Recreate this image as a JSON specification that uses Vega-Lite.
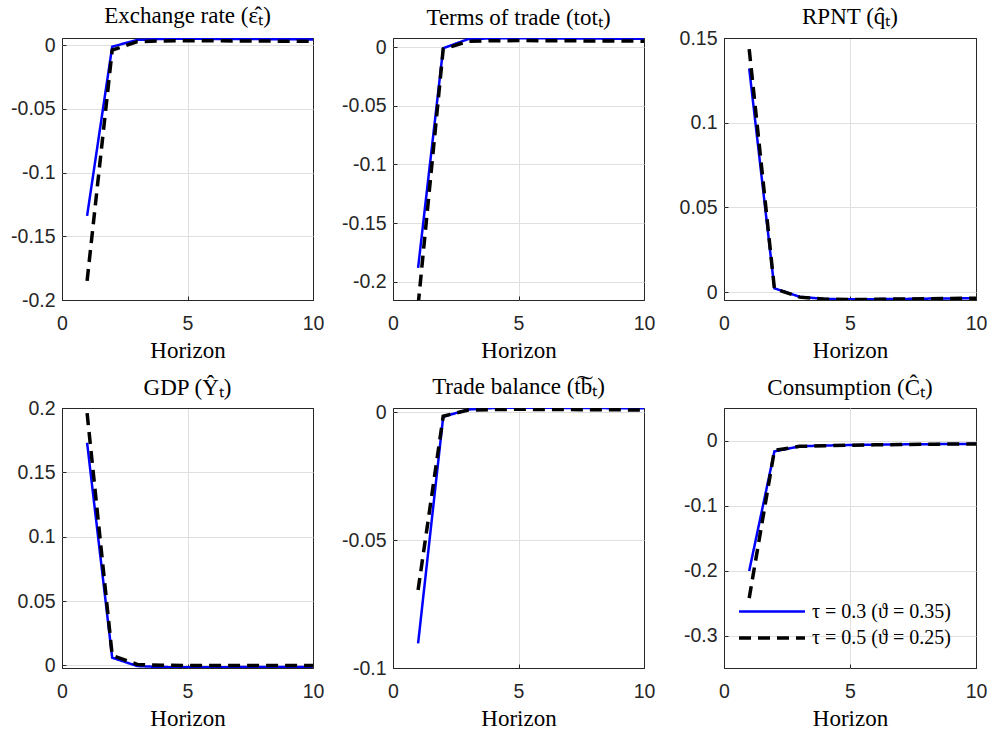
{
  "$schema": "https://vega.github.io/schema/vega-lite/v6.json",
  "background": "white",
  "padding": {"left": 10, "top": 4, "right": 5, "bottom": 0},
  "datasets": {
    "irf": [
      {"p":"ex","s":"a","h":1,"v":-0.134},{"p":"ex","s":"a","h":2,"v":-0.0013},{"p":"ex","s":"a","h":3,"v":0.004},{"p":"ex","s":"a","h":4,"v":0.0048},{"p":"ex","s":"a","h":5,"v":0.0049},{"p":"ex","s":"a","h":6,"v":0.0048},{"p":"ex","s":"a","h":7,"v":0.0047},{"p":"ex","s":"a","h":8,"v":0.0046},{"p":"ex","s":"a","h":9,"v":0.0045},{"p":"ex","s":"a","h":10,"v":0.0044},
      {"p":"ex","s":"b","h":1,"v":-0.185},{"p":"ex","s":"b","h":2,"v":-0.004},{"p":"ex","s":"b","h":3,"v":0.0026},{"p":"ex","s":"b","h":4,"v":0.0032},{"p":"ex","s":"b","h":5,"v":0.0033},{"p":"ex","s":"b","h":6,"v":0.0033},{"p":"ex","s":"b","h":7,"v":0.0032},{"p":"ex","s":"b","h":8,"v":0.0031},{"p":"ex","s":"b","h":9,"v":0.003},{"p":"ex","s":"b","h":10,"v":0.003},
      {"p":"tot","s":"a","h":1,"v":-0.188},{"p":"tot","s":"a","h":2,"v":-0.001},{"p":"tot","s":"a","h":3,"v":0.0068},{"p":"tot","s":"a","h":4,"v":0.0074},{"p":"tot","s":"a","h":5,"v":0.0075},{"p":"tot","s":"a","h":6,"v":0.0074},{"p":"tot","s":"a","h":7,"v":0.0073},{"p":"tot","s":"a","h":8,"v":0.0072},{"p":"tot","s":"a","h":9,"v":0.0071},{"p":"tot","s":"a","h":10,"v":0.007},
      {"p":"tot","s":"b","h":1,"v":-0.22},{"p":"tot","s":"b","h":2,"v":-0.0017},{"p":"tot","s":"b","h":3,"v":0.0049},{"p":"tot","s":"b","h":4,"v":0.0054},{"p":"tot","s":"b","h":5,"v":0.0055},{"p":"tot","s":"b","h":6,"v":0.0054},{"p":"tot","s":"b","h":7,"v":0.0053},{"p":"tot","s":"b","h":8,"v":0.0052},{"p":"tot","s":"b","h":9,"v":0.0051},{"p":"tot","s":"b","h":10,"v":0.005},
      {"p":"q","s":"a","h":1,"v":0.132},{"p":"q","s":"a","h":2,"v":0.0022},{"p":"q","s":"a","h":3,"v":-0.0028},{"p":"q","s":"a","h":4,"v":-0.0041},{"p":"q","s":"a","h":5,"v":-0.0043},{"p":"q","s":"a","h":6,"v":-0.0042},{"p":"q","s":"a","h":7,"v":-0.0041},{"p":"q","s":"a","h":8,"v":-0.0039},{"p":"q","s":"a","h":9,"v":-0.0038},{"p":"q","s":"a","h":10,"v":-0.0036},
      {"p":"q","s":"b","h":1,"v":0.1434},{"p":"q","s":"b","h":2,"v":0.002},{"p":"q","s":"b","h":3,"v":-0.003},{"p":"q","s":"b","h":4,"v":-0.0042},{"p":"q","s":"b","h":5,"v":-0.0044},{"p":"q","s":"b","h":6,"v":-0.0043},{"p":"q","s":"b","h":7,"v":-0.0041},{"p":"q","s":"b","h":8,"v":-0.004},{"p":"q","s":"b","h":9,"v":-0.0038},{"p":"q","s":"b","h":10,"v":-0.0036},
      {"p":"y","s":"a","h":1,"v":0.173},{"p":"y","s":"a","h":2,"v":0.006},{"p":"y","s":"a","h":3,"v":-0.0005},{"p":"y","s":"a","h":4,"v":-0.0013},{"p":"y","s":"a","h":5,"v":-0.0014},{"p":"y","s":"a","h":6,"v":-0.0014},{"p":"y","s":"a","h":7,"v":-0.0013},{"p":"y","s":"a","h":8,"v":-0.0013},{"p":"y","s":"a","h":9,"v":-0.0012},{"p":"y","s":"a","h":10,"v":-0.0012},
      {"p":"y","s":"b","h":1,"v":0.196},{"p":"y","s":"b","h":2,"v":0.0078},{"p":"y","s":"b","h":3,"v":0.0008},{"p":"y","s":"b","h":4,"v":0.0001},{"p":"y","s":"b","h":5,"v":0.0},{"p":"y","s":"b","h":6,"v":0.0},{"p":"y","s":"b","h":7,"v":0.0},{"p":"y","s":"b","h":8,"v":0.0},{"p":"y","s":"b","h":9,"v":0.0},{"p":"y","s":"b","h":10,"v":0.0},
      {"p":"tb","s":"a","h":1,"v":-0.0904},{"p":"tb","s":"a","h":2,"v":-0.0018},{"p":"tb","s":"a","h":3,"v":0.001},{"p":"tb","s":"a","h":4,"v":0.0016},{"p":"tb","s":"a","h":5,"v":0.0017},{"p":"tb","s":"a","h":6,"v":0.0017},{"p":"tb","s":"a","h":7,"v":0.0016},{"p":"tb","s":"a","h":8,"v":0.0016},{"p":"tb","s":"a","h":9,"v":0.0015},{"p":"tb","s":"a","h":10,"v":0.0015},
      {"p":"tb","s":"b","h":1,"v":-0.0695},{"p":"tb","s":"b","h":2,"v":-0.0016},{"p":"tb","s":"b","h":3,"v":0.0008},{"p":"tb","s":"b","h":4,"v":0.001},{"p":"tb","s":"b","h":5,"v":0.0011},{"p":"tb","s":"b","h":6,"v":0.001},{"p":"tb","s":"b","h":7,"v":0.001},{"p":"tb","s":"b","h":8,"v":0.0009},{"p":"tb","s":"b","h":9,"v":0.0009},{"p":"tb","s":"b","h":10,"v":0.0008},
      {"p":"c","s":"a","h":1,"v":-0.2006},{"p":"c","s":"a","h":2,"v":-0.0168},{"p":"c","s":"a","h":3,"v":-0.009},{"p":"c","s":"a","h":4,"v":-0.0077},{"p":"c","s":"a","h":5,"v":-0.007},{"p":"c","s":"a","h":6,"v":-0.0065},{"p":"c","s":"a","h":7,"v":-0.006},{"p":"c","s":"a","h":8,"v":-0.0057},{"p":"c","s":"a","h":9,"v":-0.0054},{"p":"c","s":"a","h":10,"v":-0.0051},
      {"p":"c","s":"b","h":1,"v":-0.2425},{"p":"c","s":"b","h":2,"v":-0.0153},{"p":"c","s":"b","h":3,"v":-0.009},{"p":"c","s":"b","h":4,"v":-0.008},{"p":"c","s":"b","h":5,"v":-0.0072},{"p":"c","s":"b","h":6,"v":-0.0067},{"p":"c","s":"b","h":7,"v":-0.0062},{"p":"c","s":"b","h":8,"v":-0.0058},{"p":"c","s":"b","h":9,"v":-0.0055},{"p":"c","s":"b","h":10,"v":-0.0052}
    ]
  },
  "columns": 3,
  "spacing": {"row": 108, "column": 79},
  "bounds": "flush",
  "align": "all",
  "resolve": {"scale": {"color": "independent", "strokeDash": "independent", "strokeWidth": "independent"}},
  "concat": [
    {
      "title": {"text": "Exchange rate (ε̂ₜ)", "offset": 7},
      "width": 251, "height": 262,
      "data": {"name": "irf"},
      "transform": [{"filter": "datum.p == 'ex'"}],
      "mark": {"type": "line", "clip": true},
      "encoding": {
        "x": {"field": "h", "type": "quantitative", "scale": {"domain": [0, 10], "nice": false}, "axis": {"values": [0, 5, 10], "title": "Horizon", "gridColor": {"condition": {"test": "datum.value == 0 || datum.value == 10", "value": "#262626"}, "value": "#dfdfdf"}}},
        "y": {"field": "v", "type": "quantitative", "scale": {"domain": [-0.2, 0.0055], "nice": false, "zero": false}, "axis": {"values": [-0.2, -0.15, -0.1, -0.05, 0], "title": null, "gridColor": {"condition": {"test": "datum.value == -0.2", "value": "#262626"}, "value": "#dfdfdf"}}},
        "color": {"field": "s", "type": "nominal", "scale": {"domain": ["a", "b"], "range": ["#0000ff", "#000000"]}, "legend": null},
        "strokeDash": {"field": "s", "type": "nominal", "scale": {"domain": ["a", "b"], "range": [[1, 0], [12, 7]]}, "legend": null},
        "strokeWidth": {"field": "s", "type": "ordinal", "scale": {"domain": ["a", "b"], "range": [2.5, 3.5]}, "legend": null}
      }
    },
    {
      "title": {"text": "Terms of trade (totₜ)", "offset": 7},
      "width": 251, "height": 262,
      "data": {"name": "irf"},
      "transform": [{"filter": "datum.p == 'tot'"}],
      "mark": {"type": "line", "clip": true},
      "encoding": {
        "x": {"field": "h", "type": "quantitative", "scale": {"domain": [0, 10], "nice": false}, "axis": {"values": [0, 5, 10], "title": "Horizon", "gridColor": {"condition": {"test": "datum.value == 0 || datum.value == 10", "value": "#262626"}, "value": "#dfdfdf"}}},
        "y": {"field": "v", "type": "quantitative", "scale": {"domain": [-0.2154, 0.0077], "nice": false, "zero": false}, "axis": {"values": [-0.2, -0.15, -0.1, -0.05, 0], "title": null}},
        "color": {"field": "s", "type": "nominal", "scale": {"domain": ["a", "b"], "range": ["#0000ff", "#000000"]}, "legend": null},
        "strokeDash": {"field": "s", "type": "nominal", "scale": {"domain": ["a", "b"], "range": [[1, 0], [12, 7]]}, "legend": null},
        "strokeWidth": {"field": "s", "type": "ordinal", "scale": {"domain": ["a", "b"], "range": [2.5, 3.5]}, "legend": null}
      }
    },
    {
      "title": {"text": "RPNT (q̂ₜ)", "offset": -1},
      "width": 252, "height": 262,
      "data": {"name": "irf"},
      "transform": [{"filter": "datum.p == 'q'"}],
      "mark": {"type": "line", "clip": true},
      "encoding": {
        "x": {"field": "h", "type": "quantitative", "scale": {"domain": [0, 10], "nice": false}, "axis": {"values": [0, 5, 10], "title": "Horizon", "gridColor": {"condition": {"test": "datum.value == 0 || datum.value == 10", "value": "#262626"}, "value": "#dfdfdf"}}},
        "y": {"field": "v", "type": "quantitative", "scale": {"domain": [-0.0047, 0.15], "nice": false, "zero": false}, "axis": {"values": [0, 0.05, 0.1, 0.15], "title": null, "gridColor": {"condition": {"test": "datum.value == 0.15", "value": "#262626"}, "value": "#dfdfdf"}}},
        "color": {"field": "s", "type": "nominal", "scale": {"domain": ["a", "b"], "range": ["#0000ff", "#000000"]}, "legend": null},
        "strokeDash": {"field": "s", "type": "nominal", "scale": {"domain": ["a", "b"], "range": [[1, 0], [12, 7]]}, "legend": null},
        "strokeWidth": {"field": "s", "type": "ordinal", "scale": {"domain": ["a", "b"], "range": [2.5, 3.5]}, "legend": null}
      }
    },
    {
      "title": {"text": "GDP (Ŷₜ)", "offset": -2},
      "width": 251, "height": 260,
      "data": {"name": "irf"},
      "transform": [{"filter": "datum.p == 'y'"}],
      "mark": {"type": "line", "clip": true},
      "encoding": {
        "x": {"field": "h", "type": "quantitative", "scale": {"domain": [0, 10], "nice": false}, "axis": {"values": [0, 5, 10], "title": "Horizon", "gridColor": {"condition": {"test": "datum.value == 0 || datum.value == 10", "value": "#262626"}, "value": "#dfdfdf"}}},
        "y": {"field": "v", "type": "quantitative", "scale": {"domain": [-0.002, 0.2], "nice": false, "zero": false}, "axis": {"values": [0, 0.05, 0.1, 0.15, 0.2], "title": null, "gridColor": {"condition": {"test": "datum.value == 0.2", "value": "#262626"}, "value": "#dfdfdf"}}},
        "color": {"field": "s", "type": "nominal", "scale": {"domain": ["a", "b"], "range": ["#0000ff", "#000000"]}, "legend": null},
        "strokeDash": {"field": "s", "type": "nominal", "scale": {"domain": ["a", "b"], "range": [[1, 0], [12, 7]]}, "legend": null},
        "strokeWidth": {"field": "s", "type": "ordinal", "scale": {"domain": ["a", "b"], "range": [2.5, 3.5]}, "legend": null}
      }
    },
    {
      "title": {"text": "Trade balance (t͠bₜ)", "offset": 3},
      "width": 251, "height": 260,
      "data": {"name": "irf"},
      "transform": [{"filter": "datum.p == 'tb'"}],
      "mark": {"type": "line", "clip": true},
      "encoding": {
        "x": {"field": "h", "type": "quantitative", "scale": {"domain": [0, 10], "nice": false}, "axis": {"values": [0, 5, 10], "title": "Horizon", "gridColor": {"condition": {"test": "datum.value == 0 || datum.value == 10", "value": "#262626"}, "value": "#dfdfdf"}}},
        "y": {"field": "v", "type": "quantitative", "scale": {"domain": [-0.1, 0.0016], "nice": false, "zero": false}, "axis": {"values": [-0.1, -0.05, 0], "title": null, "gridColor": {"condition": {"test": "datum.value == -0.1", "value": "#262626"}, "value": "#dfdfdf"}}},
        "color": {"field": "s", "type": "nominal", "scale": {"domain": ["a", "b"], "range": ["#0000ff", "#000000"]}, "legend": null},
        "strokeDash": {"field": "s", "type": "nominal", "scale": {"domain": ["a", "b"], "range": [[1, 0], [12, 7]]}, "legend": null},
        "strokeWidth": {"field": "s", "type": "ordinal", "scale": {"domain": ["a", "b"], "range": [2.5, 3.5]}, "legend": null}
      }
    },
    {
      "title": {"text": "Consumption (Ĉₜ)", "offset": 8},
      "width": 252, "height": 260,
      "data": {"name": "irf"},
      "transform": [{"filter": "datum.p == 'c'"}],
      "mark": {"type": "line", "clip": true},
      "encoding": {
        "x": {"field": "h", "type": "quantitative", "scale": {"domain": [0, 10], "nice": false}, "axis": {"values": [0, 5, 10], "title": "Horizon", "gridColor": {"condition": {"test": "datum.value == 0 || datum.value == 10", "value": "#262626"}, "value": "#dfdfdf"}}},
        "y": {"field": "v", "type": "quantitative", "scale": {"domain": [-0.35, 0.05], "nice": false, "zero": false}, "axis": {"values": [-0.3, -0.2, -0.1, 0], "title": null}},
        "color": {"field": "s", "type": "nominal", "scale": {"domain": ["a", "b"], "range": ["#0000ff", "#000000"]},
          "legend": {"orient": "none", "legendX": 36, "legendY": 192, "title": null, "symbolType": "M-3.3,0H3.3", "symbolSize": 400, "labelFont": "Liberation Serif", "labelFontSize": 20, "labelColor": "#000000", "labelOffset": 28, "rowPadding": 4, "padding": 0,
            "labelExpr": "datum.value == 'a' ? 'τ = 0.3 (ϑ = 0.35)' : 'τ = 0.5 (ϑ = 0.25)'"}},
        "strokeDash": {"field": "s", "type": "nominal", "scale": {"domain": ["a", "b"], "range": [[1, 0], [12, 7]]},
          "legend": {"orient": "none", "legendX": 36, "legendY": 192, "title": null, "symbolType": "M-3.3,0H3.3", "symbolSize": 400, "labelFont": "Liberation Serif", "labelFontSize": 20, "labelColor": "#000000", "labelOffset": 28, "rowPadding": 4, "padding": 0,
            "labelExpr": "datum.value == 'a' ? 'τ = 0.3 (ϑ = 0.35)' : 'τ = 0.5 (ϑ = 0.25)'"}},
        "strokeWidth": {"field": "s", "type": "ordinal", "scale": {"domain": ["a", "b"], "range": [2.5, 3.5]},
          "legend": {"orient": "none", "legendX": 36, "legendY": 192, "title": null, "symbolType": "M-3.3,0H3.3", "symbolSize": 400, "labelFont": "Liberation Serif", "labelFontSize": 20, "labelColor": "#000000", "labelOffset": 28, "rowPadding": 4, "padding": 0,
            "labelExpr": "datum.value == 'a' ? 'τ = 0.3 (ϑ = 0.35)' : 'τ = 0.5 (ϑ = 0.25)'"}}
      }
    }
  ],
  "config": {
    "view": {"stroke": "#262626", "strokeWidth": 1},
    "axis": {
      "labelFont": "Liberation Sans", "labelFontSize": 19.5, "labelColor": "#262626",
      "domain": false, "grid": true, "gridColor": "#dfdfdf", "gridWidth": 1,
      "tickColor": "#262626", "tickSize": -4, "labelPadding": 11, "labelFlush": false,
      "labelExpr": "replace(format(datum.value, '~g'), '−', '-')",
      "titleFont": "Liberation Serif", "titleFontSize": 23, "titleFontWeight": "normal", "titleColor": "#000000", "titlePadding": 7
    },
    "axisX": {"labelPadding": 18},
    "title": {"font": "Liberation Serif", "fontSize": 23, "fontWeight": "normal", "color": "#000000", "baseline": "alphabetic"}
  }
}
